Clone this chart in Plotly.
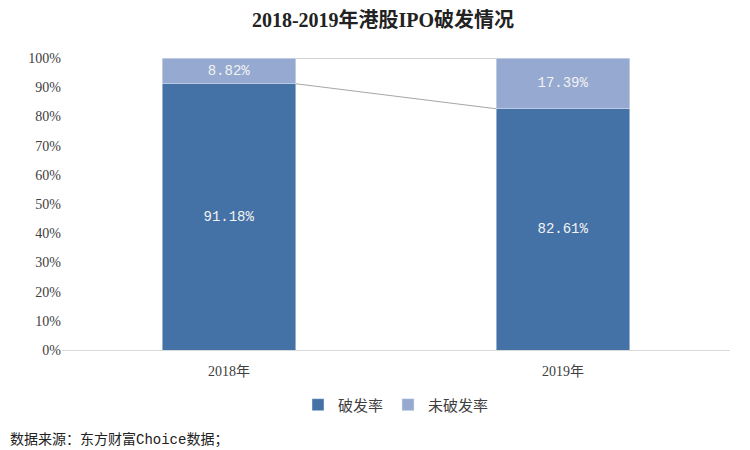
import plotly.graph_objects as go

years = ["2018年", "2019年"]
broken = [91.18, 82.61]
unbroken = [8.82, 17.39]
y_ticks = [0, 10, 20, 30, 40, 50, 60, 70, 80, 90, 100]

DARK = "#4472A7"
LIGHT = "#95A9D1"
SERIF = "Liberation Serif, Noto Sans CJK SC"
MONO = "Liberation Mono, Noto Sans CJK SC"

xpos = list(range(len(years)))
bar_w = 0.4

fig = go.Figure()
fig.add_trace(go.Bar(
    x=xpos, y=broken, name="破发率", marker_color=DARK, width=bar_w,
    text=[f"{v:.2f}%" for v in broken], textposition="inside",
    insidetextanchor="middle", textfont=dict(color="#F2F2F2", size=14, family=MONO),
))
fig.add_trace(go.Bar(
    x=xpos, y=unbroken, name="未破发率", marker_color=LIGHT, width=bar_w,
    text=[f"{v:.2f}%" for v in unbroken], textposition="inside",
    insidetextanchor="middle", textfont=dict(color="#F2F2F2", size=14, family=MONO),
))

# series lines between the bars (Excel style)
tops = [b + u for b, u in zip(broken, unbroken)]
for series in (broken, tops):
    fig.add_trace(go.Scatter(
        x=[xpos[0] + bar_w / 2, xpos[1] - bar_w / 2], y=series,
        mode="lines", line=dict(color="#A6A6A6", width=1),
        showlegend=False, hoverinfo="skip",
    ))

fig.update_layout(
    width=750, height=450,
    barmode="stack",
    plot_bgcolor="white", paper_bgcolor="white",
    margin=dict(l=54, r=28, t=50, b=108, autoexpand=False),
    title=dict(text="<b>2018-2019年港股IPO破发情况</b>", x=0.5, xanchor="center",
               y=0.973, yanchor="middle",
               font=dict(size=20, family=SERIF, color="#222222")),
    legend=dict(orientation="h", x=0.5, xanchor="center", y=-0.188, yanchor="middle",
                font=dict(size=15, family=SERIF, color="#404040"),
                traceorder="normal", itemwidth=30),
    font=dict(family=SERIF, color="#404040"),
    annotations=[dict(
        text="数据来源：东方财富Choice数据；", xref="paper", yref="paper",
        x=-0.081, y=-0.305, xanchor="left", yanchor="middle", showarrow=False,
        font=dict(size=14, family=MONO, color="#222222"),
    )],
)
fig.update_xaxes(
    tickvals=xpos, ticktext=years, range=[-0.5, 1.5],
    showgrid=False, zeroline=False, showline=True, linecolor="#D9D9D9",
    ticks="", ticklabelstandoff=8, tickfont=dict(size=14, family=SERIF, color="#404040"),
)
fig.update_yaxes(
    range=[0, 100], tickvals=y_ticks, ticktext=[f"{v}%" for v in y_ticks],
    showgrid=False, zeroline=False, showline=False, ticks="",
    tickfont=dict(size=14, family=SERIF, color="#404040"),
)

fig.write_html("out.html")
